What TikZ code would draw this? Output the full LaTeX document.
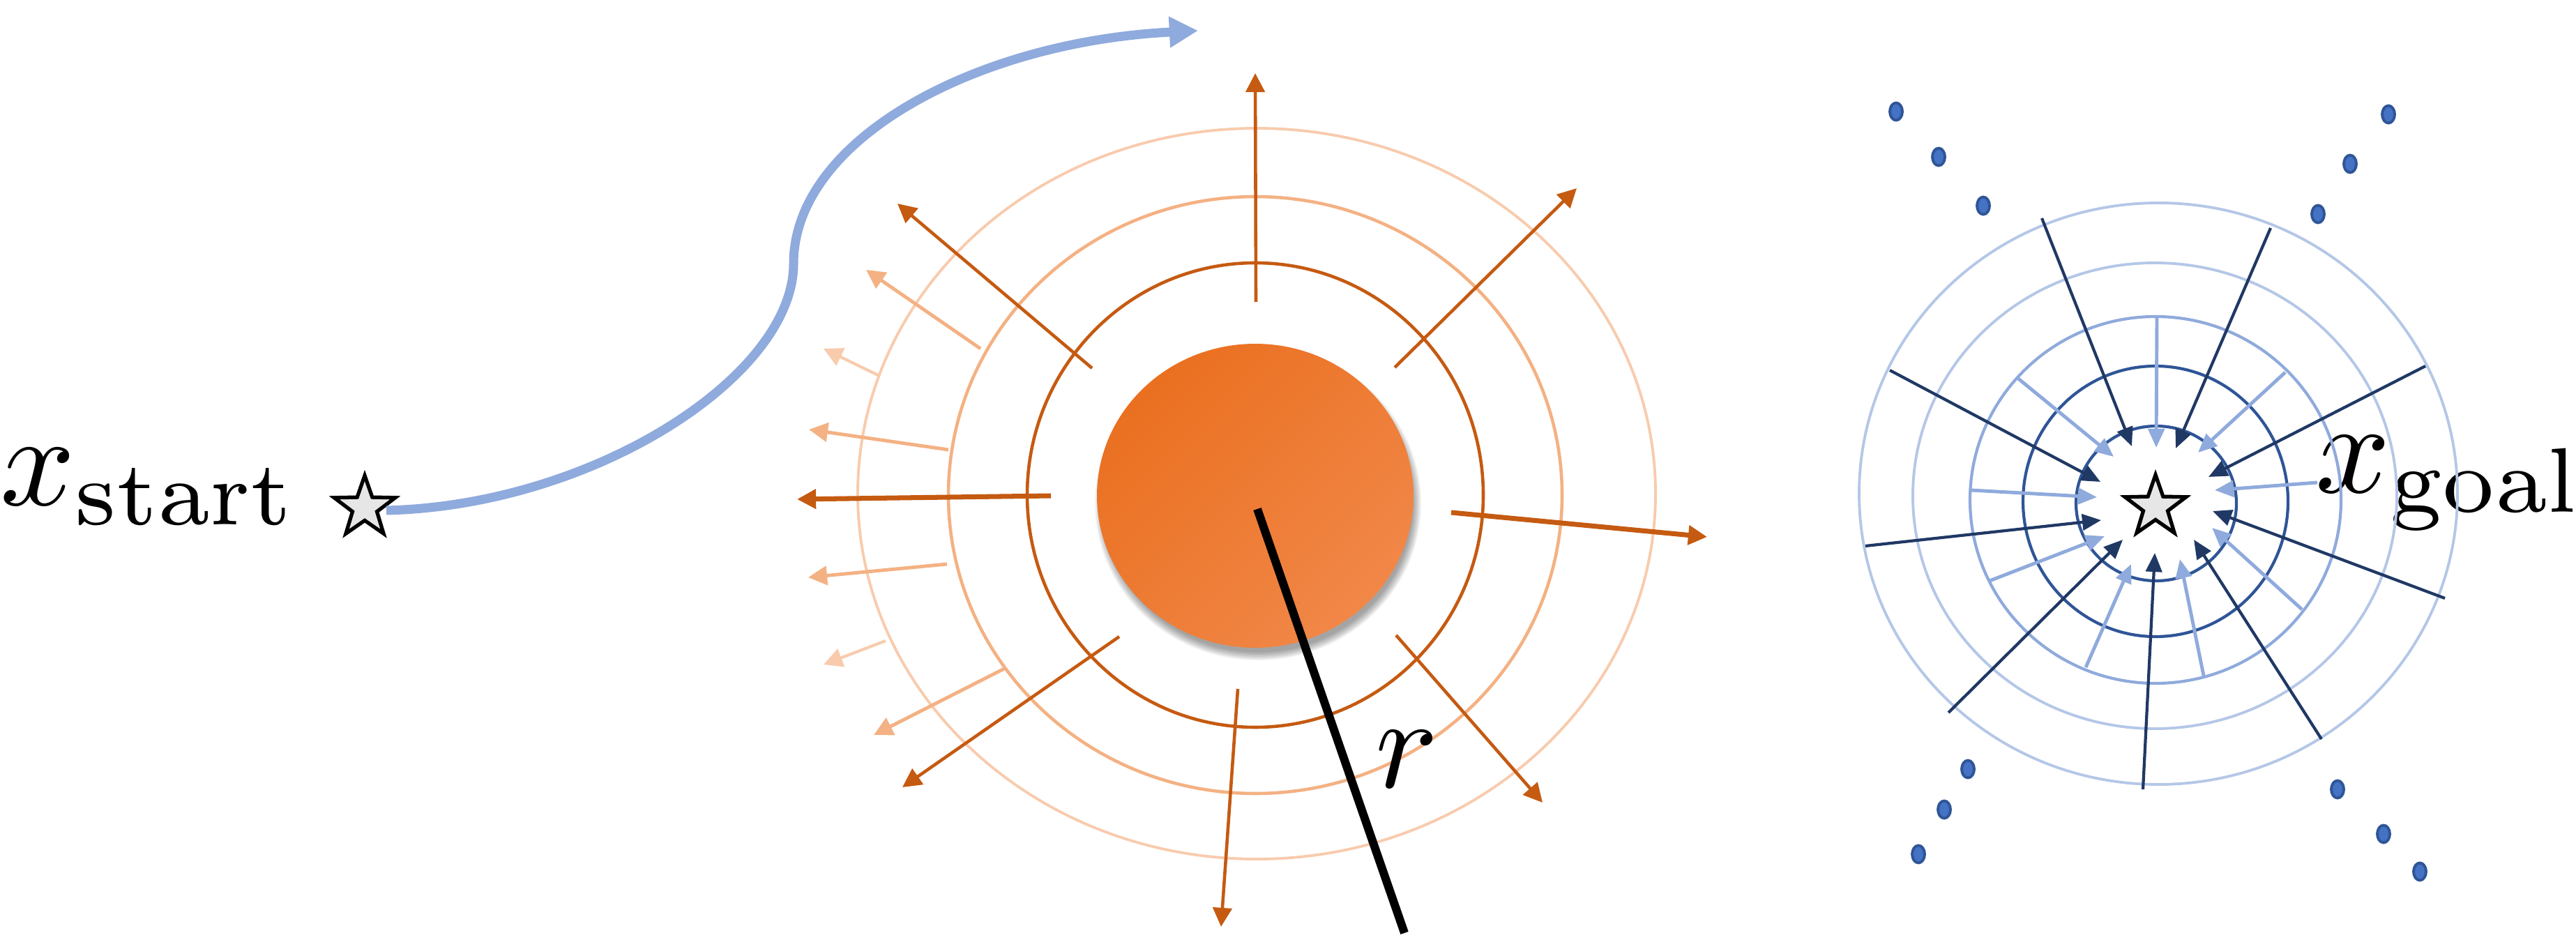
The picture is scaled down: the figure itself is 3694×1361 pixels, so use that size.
\documentclass[tikz,border=0pt]{standalone}
\usepackage{graphicx}
\usetikzlibrary{arrows.meta,shapes.geometric}
\definecolor{odark}{HTML}{C55A11}
\definecolor{olight}{HTML}{F4B183}
\definecolor{olighter}{HTML}{F8CBAD}
\definecolor{bnavy}{HTML}{203864}
\definecolor{bdark}{HTML}{2F5597}
\definecolor{bmid}{HTML}{8FAADC}
\definecolor{blight}{HTML}{B4C7E7}
\definecolor{bdot}{HTML}{4472C4}
\definecolor{starfill}{HTML}{E7E6E6}
\definecolor{orA}{HTML}{EA7020}
\definecolor{orB}{HTML}{F37C2B}
\definecolor{orC}{HTML}{F18748}
\newcommand{\bigmath}[1]{\scalebox{5.35}{$#1$}}
\begin{document}
\begin{tikzpicture}[x=0.01cm,y=-0.01cm,
  lbl/.style={inner sep=0pt,outer sep=0pt},
  starnode/.style={star,star points=5,star point ratio=2.5,minimum size=0.92cm,
    inner sep=0pt,outer sep=0pt,draw=black,line width=1.5pt,fill=starfill},
  otip/.style={-{Triangle[length=7.7pt,width=7.7pt]}},
  btip/.style={-{Triangle[length=7.7pt,width=6.6pt]}},
  darr/.style={odark,line width=1.3pt,otip},
  larr/.style={olight,line width=1.4pt,otip},
  llarr/.style={olighter,line width=1.2pt,otip},
  navyarr/.style={bnavy,line width=1.2pt,btip},
  midarr/.style={bmid,line width=1.4pt,btip},
  dotstyle/.style={fill=bdot,draw=bdark,line width=1.1pt}
]
\useasboundingbox (0,0) rectangle (3694,1361);

% ---------- left: start ----------
\node[lbl,anchor=base west] (xs) at (0,724) {\bigmath{x_{\mathrm{start}}}};
\node[starnode] (start) at (523,728) {};
\coordinate (cs) at (554,732);
\coordinate (cm) at (1138,378);
\coordinate (ce) at (1718,44);
\draw[bmid,line width=3.7pt,-{Triangle[length=11.7pt,width=12pt]}]
  (cs) .. controls (850,725) and (1138,540) .. (cm)
       .. controls (1138,200) and (1400,60) .. (ce);

% ---------- middle: obstacle ----------
\draw[olighter,line width=1.1pt] (1802,708) ellipse (572 and 524);
\draw[olight,line width=1.3pt] (1800,710) ellipse (440 and 428);
\draw[odark,line width=1.3pt] (1800,710) ellipse (327 and 333);

\foreach \i in {1,...,10}
  \fill[black,opacity=0.045] (1804,722) ellipse ({221+1.3*\i} and {212+1.3*\i});
\shade[top color=orA,middle color=orB,bottom color=orC,shading angle=45]
  (1800,711) ellipse (227 and 218);

% dark orange arrows
\draw[darr] (1801,433) -- (1800,105);
\draw[darr] (1566,528) -- (1287,292);
\draw[darr] (2000,527) -- (2261,270);
\draw[darr,line width=2pt] (1507,711) -- (1143,716);
\draw[darr,line width=2pt] (2081,735) -- (2448,770);
\draw[darr] (1605,913) -- (1294,1129);
\draw[darr] (1775,988) -- (1751,1329);
\draw[darr] (2002,911) -- (2212,1151);
% light orange arrows
\draw[larr] (1406,500) -- (1242,387);
\draw[larr] (1360,645) -- (1160,616);
\draw[larr] (1358,809) -- (1159,828);
\draw[larr] (1440,959) -- (1253,1054);
% lighter orange arrows
\draw[llarr] (1261,539) -- (1181,500);
\draw[llarr] (1270,919) -- (1181,953);

% radius
\coordinate (rc) at (1803,730);
\coordinate (re) at (2014,1338);
\draw[black,line width=3.4pt] (rc) -- (re);
\node[lbl,anchor=base west] (rl) at (1972,1129) {\bigmath{r}};

% ---------- right: goal ----------
\node[lbl,anchor=base west] (xg) at (3320,706) {\bigmath{x_{\mathrm{goal}}}};
\draw[blight,line width=1.1pt] (3095,708) ellipse (429 and 417);
\draw[blight,line width=1.1pt] (3090,711) ellipse (347 and 334);
\draw[bmid,line width=1.2pt] (3091,717) ellipse (266 and 263);
\draw[bdark,line width=1.2pt] (3091,719) ellipse (190 and 194);
\draw[bdark,line width=1.2pt] (3092,722) ellipse (115 and 111);

% light blue arrows
\draw[midarr] (3093,454) -- (3092,642);
\draw[midarr] (3277,534) -- (3152,649);
\draw[midarr] (3323,692) -- (3176,703);
\draw[midarr] (3301,874) -- (3172,757);
\draw[midarr] (3160,969) -- (3126,802);
\draw[midarr] (2991,957) -- (3056,809);
\draw[midarr] (2853,833) -- (3018,769);
\draw[midarr] (2827,703) -- (3007,713);
\draw[midarr] (2893,542) -- (3031,655);
% navy arrows
\draw[navyarr] (2928,313) -- (3057,640);
\draw[navyarr] (3256,327) -- (3120,643);
\draw[navyarr] (3478,525) -- (3167,684);
\draw[navyarr] (3506,858) -- (3173,733);
\draw[navyarr] (3329,1060) -- (3146,774);
\draw[navyarr] (3073,1132) -- (3090,793);
\draw[navyarr] (2794,1022) -- (3044,774);
\draw[navyarr] (2675,783) -- (3013,746);
\draw[navyarr] (2710,531) -- (3012,691);

\node[starnode] (goal) at (3091,727) {};

% dots
\foreach \p in {(2719,160),(2780,225),(2844,295),
                (3425,164),(3370,235),(3324,307),
                (2822,1103),(2788,1161),(2751,1225),
                (3352,1132),(3418,1196),(3470,1250)}
  \path[dotstyle] \p ellipse (9 and 12.5);
\end{tikzpicture}
\end{document}
